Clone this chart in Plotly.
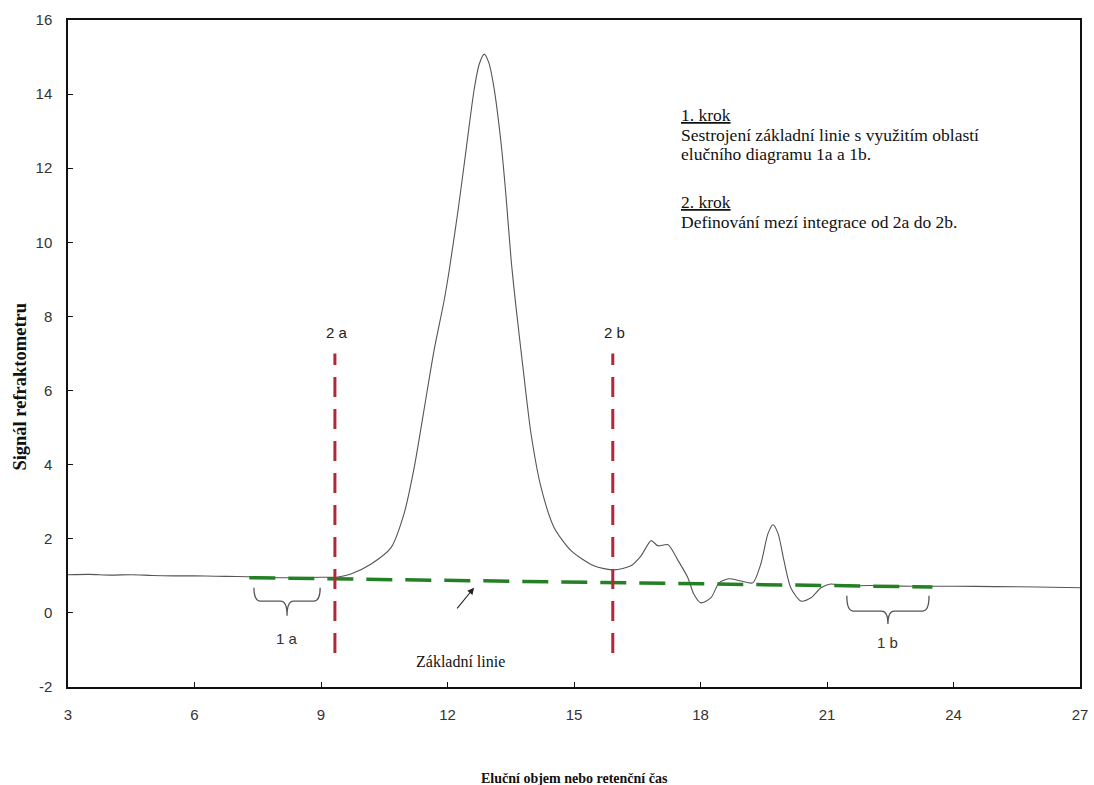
import plotly.graph_objects as go

# Elution curve
curve_x = [3.0, 3.5, 4.0, 4.5, 5.0, 5.5, 6.0, 6.5, 7.0, 7.5, 8.0, 8.5, 9.0, 9.4, 9.71,
           10.19, 10.66, 10.97, 11.21, 11.44, 11.68, 11.92, 12.04, 12.25, 12.44, 12.63,
           12.75, 12.87, 12.98, 13.10, 13.27, 13.39, 13.51, 13.62, 13.79, 13.98, 14.22,
           14.53, 14.93, 15.47, 15.95, 16.35, 16.59, 16.83, 16.99, 17.23, 17.47, 17.70,
           17.84, 18.01, 18.25, 18.44, 18.67, 18.96, 19.24, 19.43, 19.60, 19.72, 19.84,
           19.98, 20.14, 20.38, 20.62, 20.86, 21.09, 21.40, 22.0, 23.0, 24.0, 25.0, 26.0, 27.0]
curve_y = [1.03, 1.04, 1.02, 1.03, 1.01, 1.00, 1.00, 0.99, 0.98, 0.97, 0.95, 0.95, 0.96, 0.97, 1.05,
           1.32, 1.76, 2.68, 3.92, 5.46, 7.08, 8.43, 9.24, 10.86, 12.49, 14.11,
           14.80, 15.08, 14.85, 14.19, 12.68, 11.22, 9.51, 8.30, 6.62, 4.84, 3.38,
           2.30, 1.68, 1.27, 1.16, 1.27, 1.54, 1.95, 1.81, 1.84, 1.41, 0.95,
           0.51, 0.27, 0.41, 0.81, 0.92, 0.86, 0.81, 1.32, 2.14, 2.38, 2.14,
           1.41, 0.68, 0.32, 0.41, 0.68, 0.78, 0.73, 0.74, 0.72, 0.72, 0.71, 0.70, 0.68]

# Baseline
baseline_x = [7.3, 23.5]
baseline_y = [0.95, 0.70]

# Integration limits
limit_x = [9.33, 15.92]
limit_labels = ["2 a", "2 b"]
limit_y = [-1.08, 7.0]

# Baseline regions (braces)
brace_ranges = [(7.41, 8.98), (21.47, 23.42)]
brace_labels = ["1 a", "1 b"]

x_ticks = [3, 6, 9, 12, 15, 18, 21, 24, 27]
y_ticks = [-2, 0, 2, 4, 6, 8, 10, 12, 14, 16]

SERIF = "Liberation Serif"
SANS = "Liberation Sans"

fig = go.Figure()

fig.add_trace(go.Scatter(x=curve_x, y=curve_y, mode="lines",
                         line=dict(color="#555555", width=1.1, shape="spline", smoothing=0.7),
                         showlegend=False, hoverinfo="skip"))

fig.add_trace(go.Scatter(x=baseline_x, y=baseline_y, mode="lines",
                         line=dict(color="#238023", width=3.5, dash="26px,13px"),
                         showlegend=False, hoverinfo="skip"))

for lx in limit_x:
    fig.add_trace(go.Scatter(x=[lx, lx], y=limit_y, mode="lines",
                             line=dict(color="#b0283a", width=3, dash="20px,12px"),
                             showlegend=False, hoverinfo="skip"))

annotations = []
for lx, lab in zip(limit_x, limit_labels):
    annotations.append(dict(x=lx + 0.05, y=7.57, text=lab, showarrow=False,
                            font=dict(family=SANS, size=15, color="#222")))

# braces
brace_geom = [(0.68, 0.32, -0.08, -0.68), (0.46, 0.05, -0.30, -0.81)]
shapes = []
for (x0, x1), (yt, ym, ytip, ylab), lab in zip(brace_ranges, brace_geom, brace_labels):
    xm = (x0 + x1) / 2
    r = 0.15
    path = (f"M {x0},{yt} Q {x0},{ym} {x0 + r},{ym} L {xm - r},{ym} "
            f"Q {xm},{ym} {xm},{ytip} Q {xm},{ym} {xm + r},{ym} "
            f"L {x1 - r},{ym} Q {x1},{ym} {x1},{yt}")
    shapes.append(dict(type="path", path=path, xref="x", yref="y",
                       line=dict(color="#555555", width=1.3)))
    annotations.append(dict(x=xm, y=ylab, text=lab, showarrow=False,
                            font=dict(family=SANS, size=15, color="#333")))

# arrow to baseline
annotations.append(dict(x=12.63, y=0.68, ax=12.20, ay=0.08, xref="x", yref="y",
                        axref="x", ayref="y", text="", showarrow=True,
                        arrowhead=2, arrowsize=1.2, arrowwidth=1.1, arrowcolor="#222"))
annotations.append(dict(x=12.32, y=-1.30, text="Základní linie", showarrow=False,
                        font=dict(family=SERIF, size=16, color="#111")))

# explanatory text
text_lines = [("<u>1. krok</u>", 13.43), ("Sestrojení základní linie s využitím oblastí", 12.89),
              ("elučního diagramu 1a a 1b.", 12.38), ("<u>2. krok</u>", 11.08),
              ("Definování mezí integrace od 2a do 2b.", 10.54)]
for t, yy in text_lines:
    annotations.append(dict(x=17.49, y=yy, text=t, showarrow=False, xanchor="left",
                            yanchor="middle", font=dict(family=SERIF, size=17.5, color="#111")))

# axis titles
annotations.append(dict(x=0.5, y=-0.137, xref="paper", yref="paper",
                        text="<b>Eluční objem nebo retenční čas</b>", showarrow=False,
                        yanchor="middle", font=dict(family=SERIF, size=14, color="#111")))
annotations.append(dict(x=-0.047, y=0.451, xref="paper", yref="paper",
                        text="<b>Signál refraktometru</b>", showarrow=False, textangle=-90,
                        xanchor="center", yanchor="middle",
                        font=dict(family=SERIF, size=18.5, color="#111")))

fig.update_layout(
    width=1094, height=785,
    margin=dict(l=68, r=14, t=20, b=98, autoexpand=False),
    plot_bgcolor="white", paper_bgcolor="white",
    shapes=shapes, annotations=annotations,
    xaxis=dict(range=[3, 27], tickvals=x_ticks, ticktext=[str(v) for v in x_ticks],
               showgrid=False, zeroline=False, showline=True, linecolor="#111", linewidth=1.5,
               mirror=True, ticks="inside", ticklen=5, tickcolor="#111", automargin=False,
               ticklabelstandoff=13,
               tickfont=dict(family=SANS, size=15, color="#333")),
    yaxis=dict(range=[-2, 16], tickvals=y_ticks, ticktext=[str(v) for v in y_ticks],
               showgrid=False, zeroline=False, showline=True, linecolor="#111", linewidth=1.5,
               mirror=True, ticks="inside", ticklen=5, tickcolor="#111", ticklabelstandoff=11,
               automargin=False,
               tickfont=dict(family=SANS, size=15, color="#333")),
)

fig.write_html("out.html", config={"displayModeBar": False},
               post_script="document.body.style.margin='0';document.body.style.overflow='hidden';")
